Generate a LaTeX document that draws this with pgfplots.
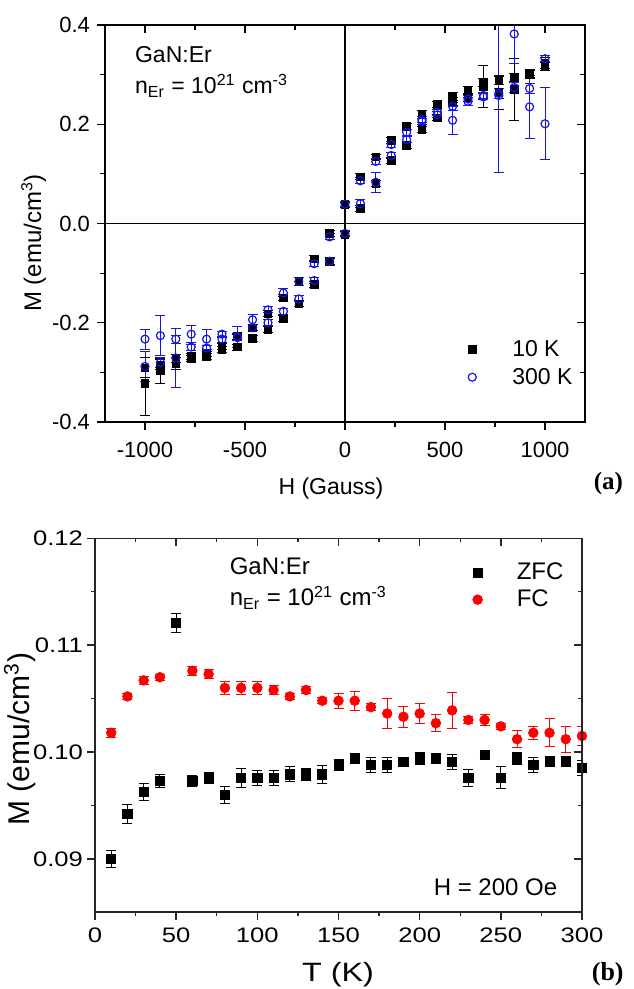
\documentclass[border=0pt]{standalone}
\usepackage{fontspec}
\setmainfont{Liberation Sans}
\newfontfamily\tnr{Liberation Serif}
\newfontfamily\widesans[FakeStretch=1.22]{Liberation Sans}
\usepackage{pgfplots}
\usepackage{pgfplotstable}
\pgfplotsset{compat=1.18}
\pgfplotsset{
  legimgA/.style={legend image code/.code={\draw[##1] plot coordinates {(0pt,0.3pt)};}},
  legimgB/.style={legend image code/.code={\draw[##1] plot coordinates {(0pt,0pt)};}},
}

\pgfplotstableread{
x y e
-1000 -0.291 0.020
-1000 -0.322 0.065
-923 -0.285 0.010
-923 -0.297 0.025
-846 -0.272 0.008
-846 -0.283 0.012
-769 -0.268 0.006
-769 -0.273 0.006
-692 -0.263 0.006
-692 -0.268 0.006
-615 -0.248 0.006
-615 -0.254 0.006
-538 -0.228 0.006
-538 -0.249 0.006
-462 -0.210 0.006
-462 -0.231 0.006
-385 -0.182 0.006
-385 -0.213 0.006
-308 -0.150 0.006
-308 -0.191 0.006
-231 -0.117 0.008
-231 -0.162 0.006
-154 -0.071 0.006
-154 -0.123 0.006
-77 -0.020 0.006
-77 -0.076 0.006
0 -0.022 0.005
0 0.038 0.005
77 0.094 0.006
77 0.031 0.006
154 0.134 0.006
154 0.081 0.006
231 0.167 0.006
231 0.127 0.006
308 0.196 0.006
308 0.157 0.006
385 0.221 0.006
385 0.189 0.006
462 0.240 0.006
462 0.213 0.006
538 0.255 0.008
538 0.245 0.008
615 0.268 0.008
615 0.253 0.008
692 0.285 0.008
692 0.276 0.042
769 0.289 0.008
769 0.264 0.035
846 0.295 0.008
846 0.270 0.063
923 0.303 0.008
923 0.300 0.008
1000 0.322 0.013
1000 0.318 0.006
}\tenK

\pgfplotstableread{
x y e
-1000 -0.233 0.020
-1000 -0.288 0.030
-923 -0.226 0.040
-923 -0.280 0.010
-846 -0.233 0.008
-846 -0.271 0.060
-769 -0.223 0.017
-769 -0.249 0.006
-692 -0.233 0.020
-692 -0.251 0.006
-615 -0.223 0.006
-615 -0.233 0.006
-538 -0.228 0.021
-538 -0.230 0.006
-462 -0.194 0.010
-462 -0.210 0.006
-385 -0.174 0.006
-385 -0.200 0.006
-308 -0.140 0.008
-308 -0.177 0.006
-231 -0.117 0.008
-231 -0.152 0.006
-154 -0.081 0.006
-154 -0.115 0.006
-77 -0.027 0.006
-77 -0.076 0.008
0 -0.020 0.005
0 0.039 0.005
77 0.086 0.006
77 0.040 0.008
154 0.125 0.006
154 0.083 0.020
231 0.159 0.006
231 0.137 0.006
308 0.184 0.006
308 0.169 0.006
385 0.209 0.006
385 0.206 0.006
462 0.224 0.006
462 0.219 0.006
538 0.236 0.008
538 0.208 0.028
615 0.246 0.008
615 0.251 0.006
692 0.255 0.006
692 0.258 0.006
769 0.258 0.155
769 0.262 0.010
846 0.382 0.060
846 0.274 0.010
923 0.272 0.010
923 0.235 0.063
1000 0.332 0.006
1000 0.201 0.073
}\threeK

\pgfplotstableread{
x y e
10 0.0900 0.0008
20 0.0942 0.0009
30 0.0963 0.0008
40 0.0973 0.0006
50 0.1121 0.0009
60 0.0973 0.0005
70 0.0976 0.0005
80 0.0960 0.0008
90 0.0976 0.0009
100 0.0976 0.0007
110 0.0976 0.0007
120 0.0979 0.0007
130 0.0979 0.0006
140 0.0979 0.0008
150 0.0988 0.0005
160 0.0994 0.0005
170 0.0988 0.0007
180 0.0988 0.0007
190 0.0991 0.0004
200 0.0994 0.0006
210 0.0994 0.0004
220 0.0991 0.0007
230 0.0976 0.0008
240 0.0997 0.0003
250 0.0976 0.0010
260 0.0994 0.0006
270 0.0988 0.0007
280 0.0991 0.0005
290 0.0991 0.0005
300 0.0985 0.0007
}\zfc

\pgfplotstableread{
x y e
10 0.1018 0.0004
20 0.1052 0.0003
30 0.1067 0.0004
40 0.1070 0.0003
60 0.1076 0.0004
70 0.1073 0.0004
80 0.1060 0.0006
90 0.1060 0.0006
100 0.1060 0.0006
110 0.1058 0.0004
120 0.1052 0.0003
130 0.1058 0.0003
140 0.1048 0.0003
150 0.1048 0.0007
160 0.1048 0.0009
170 0.1042 0.0003
180 0.1036 0.0014
190 0.1033 0.0010
200 0.1036 0.0009
210 0.1027 0.0008
220 0.1039 0.0017
230 0.1030 0.0003
240 0.1030 0.0005
250 0.1024 0.0003
260 0.1012 0.0008
270 0.1018 0.0006
280 0.1018 0.0013
290 0.1012 0.0012
300 0.1015 0.0009
}\fc

\definecolor{oblue}{RGB}{20,20,235}
\definecolor{ored}{RGB}{255,0,0}

\begin{document}
\begin{tikzpicture}
\path[use as bounding box] (0pt,0pt) rectangle (316.5pt,494.5pt);

% ---------- top panel ----------
\begin{axis}[
  at={(52.5pt,283.5pt)}, anchor=south west, scale only axis,
  width=240pt, height=198.5pt,
  xmin=-1200, xmax=1200, ymin=-0.4, ymax=0.4,
  xtick={-1000,-500,0,500,1000}, ytick={-0.4,-0.2,0,0.2,0.4},
  minor x tick num=1, minor y tick num=1,
  tick align=outside, xtick pos=left, ytick pos=left,
  major tick length=4pt, minor tick length=2.5pt,
  every tick/.style={black, line width=0.6pt},
  axis line style={line width=0.7pt},
  /pgf/number format/assume math mode=true,
  x tick label style={/pgf/number format/1000 sep={}, font=\fontsize{11}{13}\selectfont, yshift=-2.5pt},
  y tick label style={/pgf/number format/fixed, /pgf/number format/fixed zerofill, /pgf/number format/precision=1, font=\fontsize{11}{13}\selectfont},
  legend style={draw=none, fill=none, at={(0.756,0.206)}, anchor=north west,
     inner sep=0pt, nodes={inner sep=0pt}, column sep=18pt, row sep=4.3pt,
     font=\fontsize{11.5}{14}\selectfont},
  legend cell align=left,
]
\draw[black, line width=0.7pt] (axis cs:-1200,0) -- (axis cs:1200,0);
\draw[black, line width=0.7pt] (axis cs:0,-0.4) -- (axis cs:0,0.4);
\addplot[only marks, mark=square*, mark size=1.9pt, black, legimgA,
  error bars/.cd, y dir=both, y explicit,
  error bar style={line width=0.5pt, black},
  error mark options={rotate=90, mark size=2.5pt, line width=0.5pt, black}]
  table[x=x, y=y, y error=e] {\tenK};
\addlegendentry{10 K}
\addplot[only marks, mark=o, mark size=2pt, oblue, mark options={line width=0.6pt}, legimgA,
  error bars/.cd, y dir=both, y explicit,
  error bar style={line width=0.5pt, oblue},
  error mark options={rotate=90, mark size=2.5pt, line width=0.5pt, oblue}]
  table[x=x, y=y, y error=e] {\threeK};
\addlegendentry{300 K}
\end{axis}
\begin{axis}[
  at={(52.5pt,283.5pt)}, anchor=south west, scale only axis,
  width=240pt, height=198.5pt,
  xmin=-1200, xmax=1200, ymin=-0.4, ymax=0.4,
  xtick={-1000,-500,0,500,1000}, ytick={-0.4,-0.2,0,0.2,0.4},
  minor x tick num=1, minor y tick num=1,
  tick align=inside, xtick pos=right, ytick pos=right,
  major tick length=4pt, minor tick length=2.5pt,
  every tick/.style={black, line width=0.6pt},
  axis line style={line width=0.7pt},
  xticklabels={}, yticklabels={},
]
\end{axis}
\node[anchor=base west, font=\fontsize{11.5}{14}\selectfont] at (64pt,463pt) {GaN:Er};
\node[anchor=base west, font=\fontsize{11.5}{14}\selectfont] at (64pt,447.5pt) {n\textsubscript{Er} = 10\textsuperscript{21} cm\textsuperscript{-3}};
\node[rotate=90, anchor=base, font=\fontsize{12}{14}\selectfont] at (20.5pt,373pt) {M (emu/cm\textsuperscript{3})};
\node[anchor=base, font=\fontsize{11.5}{14}\selectfont] at (165.5pt,247.35pt) {H (Gauss)};
\node[anchor=base east, font=\tnr\bfseries\fontsize{12.5}{14}\selectfont] at (315pt,249.5pt) {(a)};

% ---------- bottom panel ----------
\begin{axis}[
  at={(47.5pt,38.35pt)}, anchor=south west, scale only axis,
  width=243.5pt, height=187pt,
  xmin=0, xmax=300, ymin=0.085, ymax=0.12,
  xtick={0,50,...,300}, ytick={0.09,0.10,0.11,0.12},
  minor x tick num=1, minor y tick num=1,
  tick align=outside, xtick pos=left, ytick pos=left,
  major tick length=4pt, minor tick length=2pt,
  every tick/.style={black!85, line width=0.7pt},
  axis line style={line width=0.8pt, black!85},
  /pgf/number format/assume math mode=true,
  x tick label style={font=\widesans\fontsize{10.5}{12}\selectfont},
  y tick label style={/pgf/number format/fixed, /pgf/number format/fixed zerofill, /pgf/number format/precision=2, font=\widesans\fontsize{10.5}{12}\selectfont, xshift=1.5pt},
  legend style={draw=none, fill=none, at={(0.775,0.9345)}, anchor=north west,
     inner sep=0pt, nodes={inner sep=0pt}, column sep=17.2pt, row sep=3.4pt,
     font=\fontsize{12}{14}\selectfont},
  legend cell align=left,
]
\addplot[only marks, mark=square*, mark size=2.3pt, black, legimgB,
  error bars/.cd, y dir=both, y explicit,
  error bar style={line width=0.5pt, black},
  error mark options={rotate=90, mark size=2.5pt, line width=0.5pt, black}]
  table[x=x, y=y, y error=e] {\zfc};
\addlegendentry{ZFC}
\addplot[only marks, mark=*, mark size=2.4pt, ored, legimgB,
  error bars/.cd, y dir=both, y explicit,
  error bar style={line width=0.5pt, ored},
  error mark options={rotate=90, mark size=2.5pt, line width=0.5pt, ored}]
  table[x=x, y=y, y error=e] {\fc};
\addlegendentry{FC}
\end{axis}
\begin{axis}[
  at={(47.5pt,38.35pt)}, anchor=south west, scale only axis,
  width=243.5pt, height=187pt,
  xmin=0, xmax=300, ymin=0.085, ymax=0.12,
  xtick={0,50,...,300}, ytick={0.09,0.10,0.11,0.12},
  minor x tick num=1, minor y tick num=1,
  tick align=inside, xtick pos=right, ytick pos=right,
  major tick length=4pt, minor tick length=2pt,
  every tick/.style={black!85, line width=0.7pt},
  axis line style={line width=0.8pt, black!85},
  xticklabels={}, yticklabels={},
]
\end{axis}
\node[anchor=base west, font=\fontsize{12}{14}\selectfont] at (111.35pt,207pt) {GaN:Er};
\node[anchor=base west, font=\fontsize{12}{14}\selectfont] at (111.35pt,191.5pt) {n\textsubscript{Er} = 10\textsuperscript{21} cm\textsuperscript{-3}};
\node[anchor=base east, font=\fontsize{12}{14}\selectfont] at (282.15pt,46.5pt) {H = 200 Oe};
\node[rotate=90, anchor=base, font=\fontsize{15}{17}\selectfont] at (14.5pt,125pt) {M (emu/cm\textsuperscript{3})};
\node[anchor=base, font=\widesans\fontsize{13.25}{15}\selectfont] at (169pt,3.65pt) {T (K)};
\node[anchor=base east, font=\tnr\bfseries\fontsize{13}{15}\selectfont] at (315.35pt,4.5pt) {(b)};
\end{tikzpicture}
\end{document}
